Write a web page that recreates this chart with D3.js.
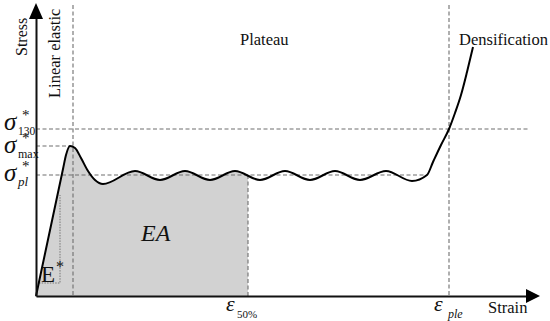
<!DOCTYPE html>
<html><head><meta charset="utf-8">
<script src="https://cdn.jsdelivr.net/npm/d3@7"></script>
<style>
html,body{margin:0;padding:0;background:#fff;}
svg text{font-family:"Liberation Serif","DejaVu Serif","Times New Roman",serif;}
</style></head>
<body>
<svg id="chart" width="550" height="321"></svg>
<script>
// Conceptual stress–strain curve (arbitrary units)
const strain = [0,27,30,34,39,45,52,59,67,99,124,149,174,199,224,249,274,299,324,350,376,391,397,405,413,419,425,431,437];
const stress = [0,127,141,150,148,138,125,116,112,125,116,125,116,125,116,125,116,125,116,125,115,121,134,151,167,183,201,224,249];
// Characteristic levels
const sigma130 = 167, sigmaMax = 150, sigmaPl = 121;
const epsLinear = 37, eps50 = 212, epsPle = 413, epsPlateauEnd = 391;
const eTriangle = {x0:3, x1:24, y0:13, y1:101};

const svg = d3.select("#chart");
const x = d3.scaleLinear().domain([0,500]).range([36,536]);
const y = d3.scaleLinear().domain([0,290]).range([296,6]);
const pts = strain.map((s,i)=>[s,stress[i]]);

svg.append("clipPath").attr("id","eaClip").append("rect")
  .attr("x",x(0)).attr("y",0).attr("width",x(eps50)-x(0)).attr("height",y(0));

const area = d3.area().x(d=>x(d[0])).y0(y(0)).y1(d=>y(d[1])).curve(d3.curveMonotoneX);
svg.append("path").datum(pts).attr("d",area).attr("fill","#d2d2d2").attr("clip-path","url(#eaClip)");

const dash = (x1,y1,x2,y2)=>svg.append("line").attr("x1",x1).attr("y1",y1).attr("x2",x2).attr("y2",y2)
  .attr("stroke","#6e6e6e").attr("stroke-width",1.1).attr("stroke-dasharray","4,2.5");

dash(x(epsLinear), y(290)-1, x(epsLinear), y(0));
dash(x(epsPle), y(290)-1, x(epsPle), y(0));
dash(x(0), y(sigma130), x(494), y(sigma130));
dash(x(0), y(sigmaMax), x(34), y(sigmaMax));
dash(x(0), y(sigmaPl), x(epsPlateauEnd), y(sigmaPl));
dash(x(eps50), y(sigmaPl), x(eps50), y(0));

svg.append("path")
  .attr("d",`M${x(eTriangle.x0)},${y(eTriangle.y0)}H${x(eTriangle.x1)}V${y(eTriangle.y1)}`)
  .attr("fill","none").attr("stroke","#777").attr("stroke-width",1).attr("stroke-dasharray","1.5,1.2");

const line = d3.line().x(d=>x(d[0])).y(d=>y(d[1])).curve(d3.curveMonotoneX);
svg.append("path").datum(pts).attr("d",line).attr("fill","none").attr("stroke","#000").attr("stroke-width",2);

const gx = svg.append("g").attr("transform",`translate(0,${y(0)})`)
  .call(d3.axisBottom(d3.scaleLinear().domain([0,1]).range([x(0),528])).tickValues([]).tickSizeOuter(0));
const gy = svg.append("g").attr("transform",`translate(${x(0)},0)`)
  .call(d3.axisLeft(d3.scaleLinear().domain([0,1]).range([y(0),18])).tickValues([]).tickSizeOuter(0));
[gx,gy].forEach(g=>g.select(".domain").attr("stroke","#111").attr("stroke-width",2));
svg.append("path").attr("d",`M540,${y(0)}L526,${y(0)-7}L526,${y(0)+7}Z`).attr("fill","#000");
svg.append("path").attr("d",`M${x(0)},3L${x(0)-7},19L${x(0)+7},19Z`).attr("fill","#000");

const FONT = '"Liberation Serif","DejaVu Serif",serif';
const txt = (t,xx,yy,size,opts={})=>{
  const e = svg.append("text").attr("x",xx).attr("y",yy).attr("font-size",size)
    .attr("font-family",FONT).attr("fill","#111").text(t);
  if(opts.italic) e.attr("font-style","italic");
  if(opts.rot) e.attr("transform",`rotate(-90,${xx},${yy})`);
  return e;
};
const comp = (main, xx, yy, size, italic, parts)=>{
  const e = svg.append("text").attr("x",xx).attr("y",yy).attr("font-family",FONT).attr("fill","#111");
  e.append("tspan").attr("font-size",size).attr("font-style",italic?"italic":"normal").text(main);
  parts.forEach(p=>e.append("tspan").attr("x",p.x).attr("y",p.y).attr("font-size",p.size)
    .attr("font-style",p.italic?"italic":"normal").text(p.t));
  return e;
};
txt("Stress", 27, 56, 16, {rot:true});
txt("Linear elastic", 60, 98, 16.5, {rot:true});
txt("Plateau", 240, 45, 16.5);
txt("Densification", 459, 45, 16.5);
txt("Strain", 488, 313, 16.5);

const sig = (yy, sub, subItalic, subSize)=>comp("σ", 4, yy, 25, true, [
  {t:"*", x:22, y:yy-10, size:15},
  {t:sub, x:18, y:yy+5, size:subSize, italic:subItalic}
]);
sig(y(sigma130)+1, "130", false, 11.5);
sig(y(sigmaMax)+7, "max", false, 12);
sig(y(sigmaPl)+6, "pl", true, 13);

comp("ε", x(eps50)-22, 311, 22, true, [{t:"50%", x:x(eps50)-11, y:318, size:11}]);
comp("ε", x(epsPle)-15, 311, 22, true, [{t:"ple", x:x(epsPle)-1, y:318, size:12, italic:true}]);

txt("EA", 141, 241, 24, {italic:true});
comp("E", 41, 282, 23, false, [{t:"*", x:56, y:272, size:16}]);
</script>
</body></html>
